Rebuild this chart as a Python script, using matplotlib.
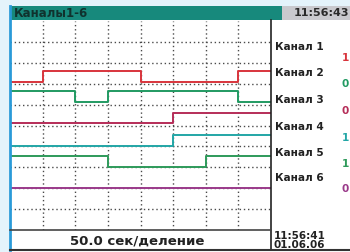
import numpy as np
import matplotlib.pyplot as plt
from matplotlib.patches import Rectangle

# time axis: 8 divisions of 50 s each
divisions = np.arange(9)

channels = ["Канал 1", "Канал 2", "Канал 3", "Канал 4", "Канал 5", "Канал 6"]
states = [
    [0, 1, 1, 1, 0, 0, 0, 1],
    [1, 1, 0, 1, 1, 1, 1, 0],
    [0, 0, 0, 0, 0, 1, 1, 1],
    [0, 0, 0, 0, 0, 1, 1, 1],
    [1, 1, 1, 0, 0, 0, 1, 1],
    [0, 0, 0, 0, 0, 0, 0, 0],
]
current = ["1", "0", "0", "1", "1", "0"]
lows = [2.93, 3.89, 4.90, 5.96, 6.97, 7.98]
colors = ["#d8343c", "#219a62", "#b52d58", "#23a6a6", "#2e9a5a", "#9a3a8a"]

title = "Каналы1-6"
time_now = "11:56:43"
time_start = "11:56:41"
date_start = "01.06.06"
scale_text = "50.0 сек/деление"

W, H = 350, 252
fig = plt.figure(figsize=(3.5, 2.52), dpi=100)
fig.patch.set_facecolor("white")


def box(x0, y0, x1, y1, **kw):
    # rectangle in pixel coords (top-left origin)
    fig.patches.append(Rectangle((x0 / W, 1 - y1 / H), (x1 - x0) / W, (y1 - y0) / H,
                                 transform=fig.transFigure, **kw))


def line(x0, y0, x1, y1, **kw):
    fig.lines.append(plt.Line2D([x0 / W, x1 / W], [1 - y0 / H, 1 - y1 / H],
                                transform=fig.transFigure, **kw))


box(0, 0, W, 6, color="#e4f3fb", lw=0)
box(0, 0, 9, H, color="#e4f3fb", lw=0)
box(10, 6, 282, 20, color="#17897c", lw=0)
box(282, 6, W, 20, color="#c9c9ce", lw=0)
fig.text(14 / W, 1 - 13.5 / H, title, color="#10322e", fontsize=8.5,
         fontweight="bold", va="center", ha="left")
fig.text(349 / W, 1 - 13.5 / H, time_now, color="#2a2a2a", fontsize=8,
         fontweight="bold", va="center", ha="right")

ax = fig.add_axes([10 / W, 1 - 230 / H, 261 / W, 209 / H])
ax.set_xlim(0, 8)
ax.set_ylim(10, 0)
for v in range(1, 8):
    ax.axvline(v, color="#4a4a4a", lw=1.0, ls=(0, (1, 2)), zorder=1)
for h in range(1, 10):
    ax.axhline(h, color="#4a4a4a", lw=1.0, ls=(0, (1, 2)), zorder=1)

for st, low, c in zip(states, lows, colors):
    st = np.array(st + [st[-1]])
    y = low - 0.52 * st
    ax.step(divisions, y, where="post", color=c, lw=1.4, zorder=3)

ax.set_xticks([])
ax.set_yticks([])
for s in ax.spines.values():
    s.set_visible(False)

# frame lines
line(9.5, 6, 9.5, 250, color="#2a9ad8", lw=2)
line(271, 20, 271, 250, color="#222222", lw=1.2)
line(10, 230, 271, 230, color="#444444", lw=1.2)
line(10, 250, W, 250, color="#333333", lw=1.5)

fig.text(137 / W, 1 - 241 / H, scale_text, color="#222222", fontsize=9.5,
         fontweight="bold", ha="center", va="center")
fig.text(274 / W, 1 - 236 / H, time_start, color="#222222", fontsize=7.5,
         fontweight="bold", ha="left", va="center")
fig.text(274 / W, 1 - 245.5 / H, date_start, color="#222222", fontsize=7.5,
         fontweight="bold", ha="left", va="center")

label_y = [47, 73, 100, 127, 153, 178]
for name, val, c, yy in zip(channels, current, colors, label_y):
    fig.text(275 / W, 1 - yy / H, name, color="#222222", fontsize=7.6,
             fontweight="bold", ha="left", va="center")
    fig.text(349 / W, 1 - (yy + 11) / H, val, color=c, fontsize=7.6,
             fontweight="bold", ha="right", va="center")

fig.savefig("out.png", dpi=100)
